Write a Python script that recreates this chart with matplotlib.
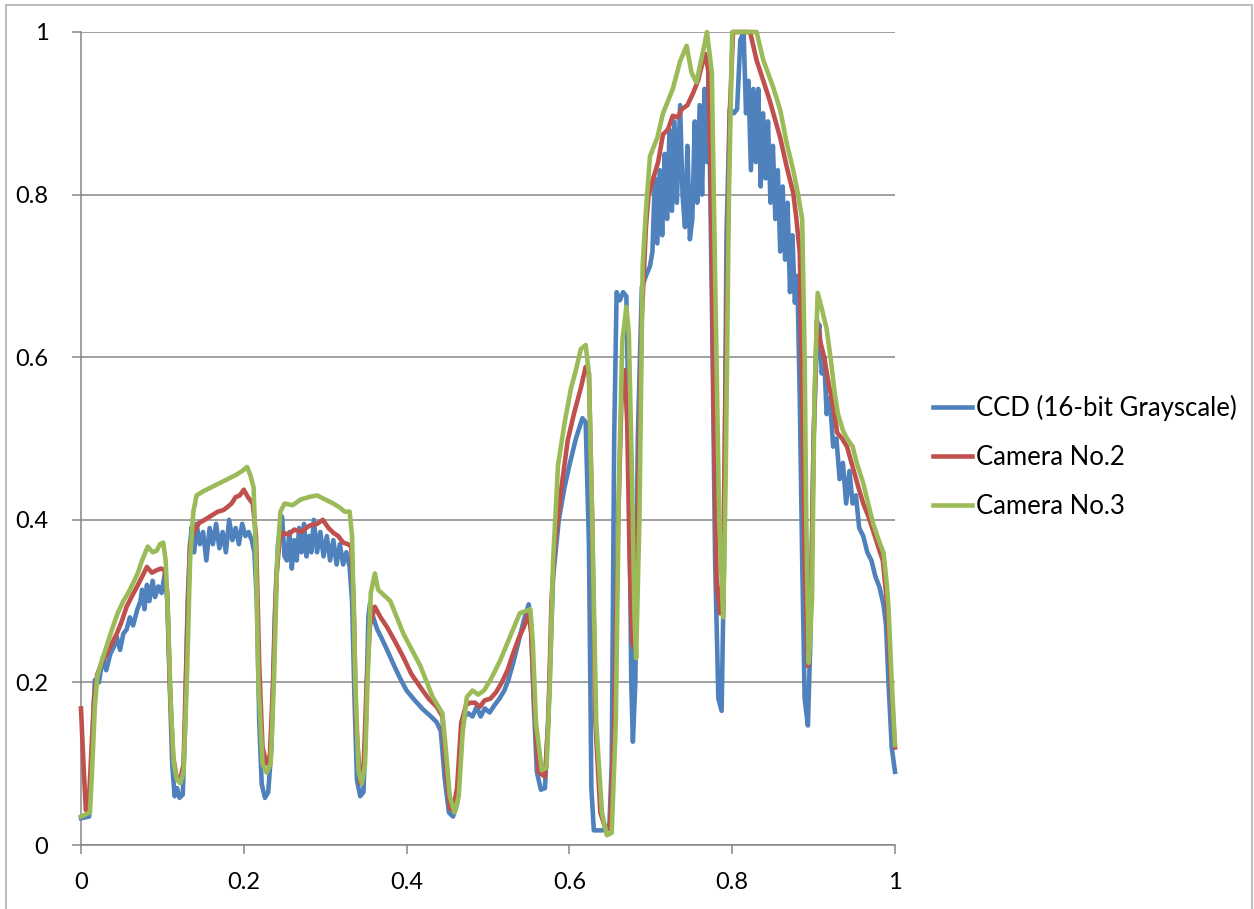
import matplotlib
matplotlib.use("Agg")
import matplotlib.pyplot as plt
from matplotlib.patches import Rectangle

plt.rcParams['font.family'] = ['Lato', 'DejaVu Sans']

# CCD (16-bit Grayscale)
ccd_x = [0.000, 0.010, 0.013, 0.017, 0.022, 0.027, 0.031, 0.036, 0.041, 0.044,
         0.048, 0.052, 0.056, 0.060, 0.064, 0.069, 0.073, 0.075, 0.078, 0.081,
         0.084, 0.088, 0.091, 0.095, 0.099, 0.103, 0.106, 0.109, 0.112, 0.115,
         0.118, 0.121, 0.125, 0.128, 0.131, 0.134, 0.136, 0.139, 0.142, 0.146,
         0.150, 0.154, 0.158, 0.162, 0.166, 0.170, 0.174, 0.178, 0.182, 0.186,
         0.190, 0.194, 0.198, 0.202, 0.206, 0.210, 0.213, 0.216, 0.219, 0.222,
         0.226, 0.230, 0.234, 0.238, 0.242, 0.247, 0.250, 0.253, 0.256, 0.259,
         0.262, 0.265, 0.268, 0.271, 0.274, 0.277, 0.280, 0.283, 0.286, 0.290,
         0.294, 0.298, 0.302, 0.306, 0.310, 0.314, 0.318, 0.322, 0.326, 0.330,
         0.333, 0.336, 0.339, 0.343, 0.347, 0.350, 0.353, 0.355, 0.359, 0.364,
         0.369, 0.376, 0.385, 0.392, 0.400, 0.410, 0.420, 0.430, 0.437, 0.442,
         0.447, 0.452, 0.457, 0.462, 0.466, 0.471, 0.476, 0.481, 0.486, 0.491,
         0.496, 0.502, 0.508, 0.514, 0.520, 0.525, 0.531, 0.538, 0.545, 0.550,
         0.553, 0.556, 0.560, 0.565, 0.570, 0.575, 0.580, 0.587, 0.594, 0.600,
         0.608, 0.616, 0.620, 0.624, 0.627, 0.630, 0.640, 0.649, 0.652, 0.655,
         0.658, 0.662, 0.666, 0.670, 0.673, 0.676, 0.678, 0.681, 0.684, 0.689,
         0.694, 0.699, 0.702, 0.705, 0.708, 0.711, 0.714, 0.717, 0.720, 0.723,
         0.726, 0.729, 0.732, 0.736, 0.739, 0.742, 0.745, 0.748, 0.751, 0.754,
         0.757, 0.760, 0.763, 0.766, 0.769, 0.771, 0.773, 0.776, 0.779, 0.783,
         0.787, 0.790, 0.793, 0.797, 0.802, 0.806, 0.810, 0.814, 0.817, 0.820,
         0.823, 0.826, 0.829, 0.832, 0.835, 0.838, 0.841, 0.844, 0.847, 0.850,
         0.853, 0.856, 0.859, 0.862, 0.865, 0.868, 0.871, 0.874, 0.877, 0.880,
         0.883, 0.886, 0.889, 0.893, 0.896, 0.900, 0.904, 0.907, 0.910, 0.913,
         0.916, 0.920, 0.924, 0.928, 0.932, 0.936, 0.940, 0.944, 0.948, 0.952,
         0.956, 0.961, 0.966, 0.971, 0.976, 0.981, 0.986, 0.989, 0.992, 0.996,
         1.000]
ccd_y = [0.033, 0.035, 0.100, 0.203, 0.200, 0.231, 0.215, 0.235, 0.245, 0.256,
         0.240, 0.260, 0.265, 0.280, 0.270, 0.289, 0.300, 0.314, 0.290, 0.320,
         0.300, 0.325, 0.305, 0.318, 0.310, 0.334, 0.300, 0.200, 0.100, 0.060,
         0.070, 0.058, 0.062, 0.150, 0.300, 0.370, 0.391, 0.360, 0.395, 0.370,
         0.385, 0.350, 0.390, 0.370, 0.395, 0.365, 0.385, 0.360, 0.400, 0.375,
         0.390, 0.370, 0.395, 0.380, 0.385, 0.374, 0.360, 0.300, 0.150, 0.075,
         0.058, 0.065, 0.120, 0.280, 0.370, 0.404, 0.355, 0.350, 0.385, 0.340,
         0.375, 0.350, 0.390, 0.360, 0.395, 0.355, 0.380, 0.360, 0.400, 0.360,
         0.385, 0.355, 0.380, 0.350, 0.375, 0.345, 0.370, 0.345, 0.360, 0.342,
         0.300, 0.180, 0.080, 0.060, 0.065, 0.150, 0.280, 0.297, 0.280, 0.265,
         0.255, 0.240, 0.220, 0.205, 0.190, 0.178, 0.167, 0.158, 0.151, 0.140,
         0.080, 0.040, 0.035, 0.050, 0.120, 0.158, 0.162, 0.158, 0.170, 0.158,
         0.168, 0.163, 0.172, 0.180, 0.190, 0.203, 0.224, 0.252, 0.280, 0.296,
         0.270, 0.180, 0.090, 0.068, 0.070, 0.180, 0.330, 0.400, 0.440, 0.467,
         0.500, 0.525, 0.520, 0.370, 0.070, 0.018, 0.018, 0.020, 0.100, 0.500,
         0.680, 0.670, 0.680, 0.675, 0.500, 0.200, 0.127, 0.200, 0.500, 0.686,
         0.700, 0.712, 0.730, 0.820, 0.740, 0.830, 0.750, 0.850, 0.770, 0.880,
         0.780, 0.890, 0.790, 0.910, 0.800, 0.760, 0.860, 0.745, 0.770, 0.890,
         0.790, 0.910, 0.800, 0.930, 0.840, 0.950, 0.810, 0.600, 0.350, 0.180,
         0.165, 0.350, 0.750, 0.906, 0.900, 0.905, 0.990, 1.000, 0.900, 0.940,
         0.830, 0.930, 0.840, 0.930, 0.810, 0.900, 0.820, 0.890, 0.790, 0.860,
         0.770, 0.830, 0.730, 0.810, 0.720, 0.790, 0.680, 0.750, 0.667, 0.700,
         0.550, 0.350, 0.180, 0.147, 0.250, 0.500, 0.620, 0.640, 0.580, 0.600,
         0.530, 0.550, 0.490, 0.500, 0.450, 0.470, 0.420, 0.460, 0.420, 0.430,
         0.390, 0.380, 0.360, 0.350, 0.330, 0.317, 0.295, 0.270, 0.200, 0.120,
         0.090]

# Camera No.2
cam2_x = [0.000, 0.003, 0.006, 0.010, 0.013, 0.016, 0.020, 0.026, 0.032, 0.038,
          0.044, 0.050, 0.056, 0.062, 0.069, 0.075, 0.081, 0.087, 0.093, 0.098,
          0.103, 0.106, 0.109, 0.113, 0.118, 0.122, 0.126, 0.130, 0.134, 0.138,
          0.145, 0.152, 0.160, 0.168, 0.175, 0.179, 0.185, 0.190, 0.195, 0.200,
          0.205, 0.211, 0.215, 0.219, 0.223, 0.228, 0.232, 0.236, 0.240, 0.244,
          0.248, 0.255, 0.262, 0.270, 0.281, 0.290, 0.297, 0.304, 0.310, 0.316,
          0.322, 0.328, 0.332, 0.335, 0.338, 0.343, 0.347, 0.351, 0.355, 0.361,
          0.368, 0.376, 0.386, 0.396, 0.406, 0.417, 0.427, 0.437, 0.444, 0.448,
          0.453, 0.457, 0.462, 0.467, 0.473, 0.478, 0.484, 0.490, 0.496, 0.503,
          0.510, 0.517, 0.524, 0.531, 0.538, 0.544, 0.550, 0.553, 0.557, 0.562,
          0.570, 0.574, 0.578, 0.582, 0.590, 0.598, 0.606, 0.614, 0.620, 0.624,
          0.628, 0.632, 0.638, 0.645, 0.650, 0.655, 0.660, 0.664, 0.668, 0.671,
          0.674, 0.677, 0.680, 0.684, 0.689, 0.694, 0.697, 0.703, 0.709, 0.715,
          0.721, 0.727, 0.733, 0.738, 0.745, 0.752, 0.758, 0.763, 0.767, 0.771,
          0.774, 0.777, 0.781, 0.785, 0.789, 0.793, 0.797, 0.801, 0.822, 0.830,
          0.834, 0.846, 0.859, 0.867, 0.875, 0.879, 0.883, 0.886, 0.889, 0.893,
          0.897, 0.900, 0.904, 0.908, 0.913, 0.918, 0.924, 0.929, 0.935, 0.941,
          0.948, 0.955, 0.961, 0.967, 0.973, 0.980, 0.985, 0.990, 0.995, 1.000]
cam2_y = [0.168, 0.100, 0.043, 0.060, 0.120, 0.180, 0.210, 0.225, 0.236, 0.248,
          0.260, 0.275, 0.293, 0.305, 0.318, 0.330, 0.342, 0.335, 0.338, 0.340,
          0.338, 0.310, 0.200, 0.110, 0.080, 0.080, 0.100, 0.250, 0.370, 0.384,
          0.396, 0.400, 0.405, 0.410, 0.412, 0.415, 0.420, 0.428, 0.430, 0.437,
          0.428, 0.420, 0.380, 0.220, 0.120, 0.100, 0.110, 0.200, 0.330, 0.375,
          0.384, 0.382, 0.388, 0.385, 0.393, 0.395, 0.400, 0.390, 0.384, 0.380,
          0.372, 0.370, 0.367, 0.300, 0.150, 0.076, 0.090, 0.200, 0.270, 0.293,
          0.280, 0.268, 0.250, 0.231, 0.210, 0.194, 0.180, 0.170, 0.158, 0.100,
          0.045, 0.043, 0.070, 0.150, 0.172, 0.175, 0.175, 0.170, 0.178, 0.180,
          0.188, 0.200, 0.215, 0.236, 0.255, 0.268, 0.285, 0.260, 0.170, 0.090,
          0.084, 0.150, 0.300, 0.368, 0.438, 0.498, 0.532, 0.562, 0.588, 0.580,
          0.400, 0.150, 0.040, 0.018, 0.025, 0.150, 0.400, 0.550, 0.584, 0.520,
          0.350, 0.250, 0.242, 0.400, 0.650, 0.760, 0.797, 0.820, 0.840, 0.874,
          0.880, 0.897, 0.895, 0.905, 0.910, 0.925, 0.940, 0.960, 0.973, 0.950,
          0.800, 0.550, 0.320, 0.285, 0.350, 0.650, 0.900, 1.000, 1.000, 0.965,
          0.953, 0.916, 0.870, 0.834, 0.802, 0.769, 0.728, 0.550, 0.350, 0.220,
          0.300, 0.500, 0.646, 0.620, 0.600, 0.570, 0.540, 0.507, 0.500, 0.490,
          0.465, 0.440, 0.420, 0.405, 0.387, 0.365, 0.350, 0.300, 0.200, 0.120]

# Camera No.3
cam3_x = [0.000, 0.011, 0.014, 0.017, 0.020, 0.025, 0.030, 0.039, 0.045, 0.052,
          0.058, 0.064, 0.070, 0.075, 0.082, 0.088, 0.093, 0.097, 0.101, 0.104,
          0.107, 0.110, 0.114, 0.118, 0.122, 0.126, 0.130, 0.134, 0.138, 0.142,
          0.150, 0.160, 0.170, 0.180, 0.190, 0.198, 0.204, 0.208, 0.212, 0.215,
          0.218, 0.223, 0.228, 0.233, 0.237, 0.241, 0.245, 0.250, 0.260, 0.270,
          0.280, 0.290, 0.300, 0.310, 0.318, 0.324, 0.330, 0.333, 0.337, 0.341,
          0.345, 0.349, 0.352, 0.356, 0.361, 0.365, 0.380, 0.396, 0.417, 0.432,
          0.444, 0.448, 0.453, 0.459, 0.464, 0.469, 0.474, 0.481, 0.488, 0.495,
          0.503, 0.515, 0.527, 0.539, 0.552, 0.555, 0.559, 0.566, 0.572, 0.576,
          0.580, 0.586, 0.594, 0.602, 0.608, 0.614, 0.620, 0.624, 0.628, 0.633,
          0.640, 0.646, 0.652, 0.657, 0.661, 0.665, 0.670, 0.673, 0.677, 0.680,
          0.682, 0.686, 0.690, 0.694, 0.699, 0.708, 0.715, 0.727, 0.736, 0.744,
          0.750, 0.756, 0.765, 0.769, 0.775, 0.779, 0.784, 0.789, 0.792, 0.796,
          0.800, 0.830, 0.838, 0.850, 0.859, 0.867, 0.875, 0.881, 0.886, 0.889,
          0.891, 0.894, 0.898, 0.901, 0.905, 0.910, 0.916, 0.922, 0.926, 0.930,
          0.936, 0.941, 0.948, 0.953, 0.961, 0.967, 0.973, 0.980, 0.986, 0.990,
          0.992, 0.996, 1.000]
cam3_y = [0.035, 0.040, 0.100, 0.170, 0.207, 0.225, 0.240, 0.268, 0.285, 0.300,
          0.310, 0.322, 0.335, 0.350, 0.367, 0.360, 0.362, 0.370, 0.372, 0.350,
          0.280, 0.180, 0.100, 0.080, 0.076, 0.090, 0.200, 0.350, 0.410, 0.430,
          0.435, 0.440, 0.445, 0.450, 0.455, 0.460, 0.465, 0.455, 0.440, 0.350,
          0.200, 0.100, 0.089, 0.100, 0.200, 0.350, 0.410, 0.420, 0.418, 0.425,
          0.428, 0.430, 0.425, 0.420, 0.415, 0.410, 0.410, 0.380, 0.200, 0.090,
          0.076, 0.100, 0.200, 0.310, 0.334, 0.314, 0.300, 0.260, 0.220, 0.182,
          0.162, 0.120, 0.060, 0.040, 0.060, 0.140, 0.182, 0.190, 0.185, 0.190,
          0.203, 0.227, 0.256, 0.285, 0.290, 0.250, 0.150, 0.092, 0.095, 0.200,
          0.350, 0.467, 0.519, 0.562, 0.584, 0.610, 0.615, 0.580, 0.400, 0.150,
          0.040, 0.012, 0.015, 0.150, 0.450, 0.620, 0.662, 0.630, 0.450, 0.280,
          0.230, 0.400, 0.713, 0.780, 0.847, 0.870, 0.900, 0.930, 0.964, 0.983,
          0.950, 0.938, 0.980, 1.000, 0.950, 0.700, 0.400, 0.280, 0.450, 0.800,
          1.000, 1.000, 0.966, 0.933, 0.904, 0.863, 0.830, 0.800, 0.769, 0.600,
          0.400, 0.224, 0.300, 0.550, 0.679, 0.660, 0.635, 0.590, 0.555, 0.530,
          0.510, 0.500, 0.490, 0.470, 0.445, 0.420, 0.396, 0.375, 0.359, 0.320,
          0.293, 0.200, 0.123]

labels = ['CCD (16-bit Grayscale)', 'Camera No.2', 'Camera No.3']
colors = ['#4F81BD', '#C0504D', '#9BBB59']
ticks = [0, 0.2, 0.4, 0.6, 0.8, 1]
tick_labels = ['0', '0.2', '0.4', '0.6', '0.8', '1']

fig = plt.figure(figsize=(12.54, 9.09), dpi=100)
ax = fig.add_axes([81/1254, 64/909, 814/1254, 813/909])

grey = '#868686'
ax.plot(ccd_x, ccd_y, color=colors[0], lw=3.3, label=labels[0], clip_on=False, zorder=3)
ax.plot(cam2_x, cam2_y, color=colors[1], lw=3.3, label=labels[1], clip_on=False, zorder=4)
ax.plot(cam3_x, cam3_y, color=colors[2], lw=3.3, label=labels[2], clip_on=False, zorder=5)

ax.set_xlim(0, 1)
ax.set_ylim(0, 1)
ax.set_xticks(ticks)
ax.set_xticklabels(tick_labels)
ax.set_yticks(ticks)
ax.set_yticklabels(tick_labels)
ax.yaxis.grid(True, color=grey, lw=1.1)
ax.set_axisbelow(True)
for s in ['top', 'right']:
    ax.spines[s].set_visible(False)
for s in ['left', 'bottom']:
    ax.spines[s].set_color(grey)
    ax.spines[s].set_linewidth(1.1)
ax.tick_params(axis='both', colors=grey, length=6.5, width=1.1, labelsize=17,
               labelcolor='black')
ax.tick_params(axis='y', pad=17)
ax.tick_params(axis='x', pad=13)

ax.legend(loc='center left', bbox_to_anchor=(910/1254, 452/909), bbox_transform=fig.transFigure,
          frameon=False, fontsize=18.5, handlelength=1.5, handletextpad=0.15,
          labelspacing=0.95)

# outer chart border
fig.patches.append(Rectangle((6/1254, -0.05), 1246/1254, 1.05 - 5/909,
                             transform=fig.transFigure, fill=False,
                             edgecolor='#BFBFBF', lw=1.5))

fig.savefig('out.png', dpi=100)
